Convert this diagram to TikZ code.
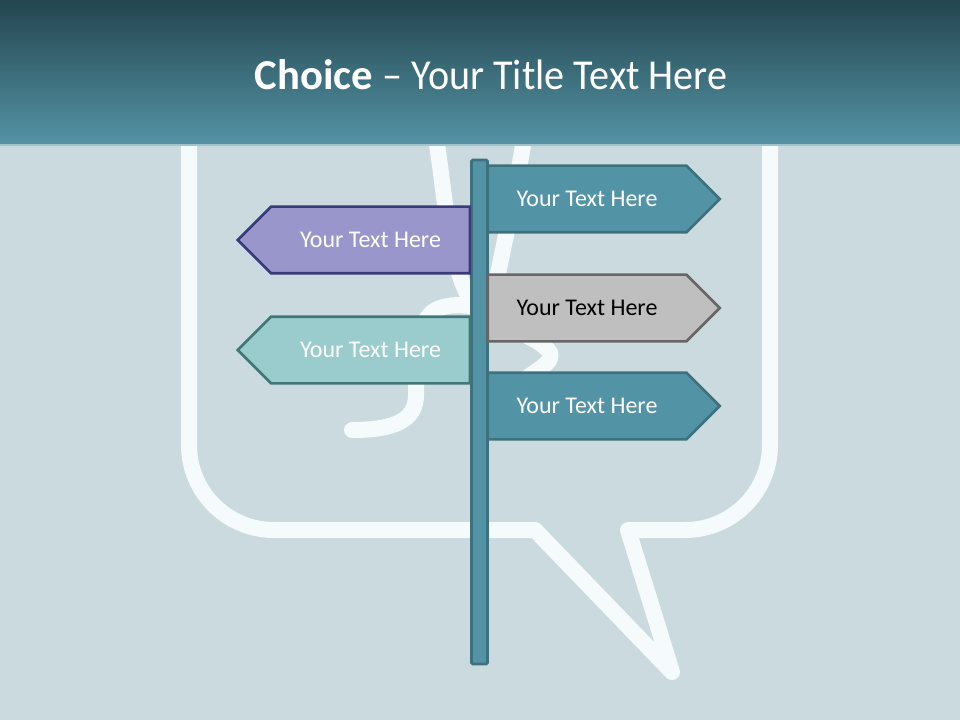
\documentclass[tikz,border=0pt]{standalone}
\usepackage{fontspec}
\setmainfont{Carlito}
\usetikzlibrary{shapes.symbols}
\definecolor{slidebg}{RGB}{203,218,223}
\definecolor{headtop}{RGB}{36,69,79}
\definecolor{headbottom}{RGB}{84,148,166}
\definecolor{headline}{RGB}{160,196,206}
\definecolor{chalk}{RGB}{245,250,252}
\definecolor{postblue}{RGB}{83,147,166}
\definecolor{postedge}{RGB}{62,113,126}
\definecolor{lavender}{RGB}{152,150,202}
\definecolor{navyedge}{RGB}{57,58,122}
\definecolor{signgray}{RGB}{191,191,191}
\definecolor{grayedge}{RGB}{102,102,102}
\definecolor{mint}{RGB}{154,204,206}
\definecolor{mintedge}{RGB}{63,119,119}

\begin{document}
\begin{tikzpicture}[
    x=0.75pt, y=-0.75pt,
    chalkline/.style={draw=chalk, line width=12pt, line cap=round, line join=round},
    sign/.style={signal, signal pointer angle=90, draw, line width=2pt, minimum width=174pt, minimum height=50pt, inner sep=0pt, text=white, font=\fontsize{18}{22}\selectfont},
    rightsign/.style={sign, signal to=east},
    leftsign/.style={sign, signal to=west},
    pole/.style={rectangle, draw=postedge, fill=postblue, line width=2pt, rounded corners=1pt, minimum width=12pt, minimum height=378pt, inner sep=0pt}
]
\useasboundingbox (0,0) rectangle (960,720);
\fill[slidebg] (0,0) rectangle (960,720);
% speech bubble and question mark behind the post
\draw[chalkline] (189,120) -- (189,445) .. controls (189,492) and (227,530) .. (274,530) -- (535,530) -- (672,672) -- (628,530) -- (685,530) .. controls (732,530) and (770,492) .. (770,445) -- (770,120);
\draw[chalkline] (433,120) .. controls (446,190) and (446,270) .. (478,312);
\draw[chalkline] (352,430) .. controls (395,430) and (416,420) .. (416,395) .. controls (416,350) and (418,315) .. (440,308) .. controls (455,303) and (470,305) .. (485,310);
\draw[chalkline] (527,120) .. controls (515,200) and (500,260) .. (495,290) .. controls (495,335) and (530,330) .. (548,350) .. controls (560,362) and (530,372) .. (512,390);
% header
\shade[top color=headtop, bottom color=headbottom] (0,0) rectangle (960,145);
\fill[headline] (0,144) rectangle (960,146);
\node[font=\fontsize{32}{38}\selectfont, text=white] (title) at (491,75) {\textbf{Choice} \scalebox{0.94}[1]{– Your Title Text Here}};
% signpost
\node[pole] (post) at (479.5,412) {};
\node[rightsign, fill=postblue, draw=postedge] (right1) at (587,199) {Your Text Here};
\node[leftsign, fill=lavender, draw=navyedge] (left1) at (370.5,240) {Your Text Here};
\node[rightsign, fill=signgray, draw=grayedge, text=black] (right2) at (587,308) {Your Text Here};
\node[leftsign, fill=mint, draw=mintedge] (left2) at (370.5,350) {Your Text Here};
\node[rightsign, fill=postblue, draw=postedge] (right3) at (587,406) {Your Text Here};
\end{tikzpicture}
\end{document}
